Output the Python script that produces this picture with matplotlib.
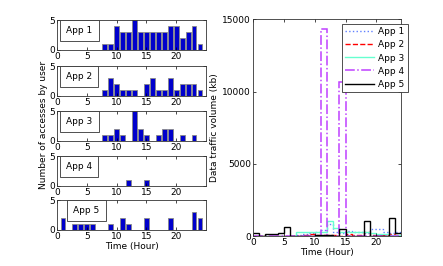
import numpy as np
import matplotlib
matplotlib.use("Agg")
import matplotlib.pyplot as plt

# hourly access counts per app (bars, hour 1..24)
hours = np.arange(1, 25)
app1_cnt = [0, 0, 0, 0, 0, 0, 0, 1, 1, 4, 3, 3, 5, 3, 3, 3, 3, 3, 4, 4, 2, 3, 4, 1]
app2_cnt = [0, 0, 0, 0, 0, 0, 0, 1, 3, 2, 1, 1, 1, 0, 2, 3, 1, 1, 3, 1, 2, 2, 2, 1]
app3_cnt = [0, 0, 0, 0, 0, 0, 0, 1, 1, 2, 1, 0, 5, 2, 1, 0, 1, 2, 2, 0, 1, 0, 1, 0]
app4_cnt = [0, 0, 0, 0, 0, 0, 0, 0, 0, 0, 0, 1, 0, 0, 1, 0, 0, 0, 0, 0, 0, 0, 0, 0]
app5_cnt = [2, 0, 1, 1, 1, 1, 0, 0, 1, 0, 2, 1, 0, 0, 2, 0, 0, 0, 2, 0, 0, 0, 3, 2]
counts = [app1_cnt, app2_cnt, app3_cnt, app4_cnt, app5_cnt]
names = ["App 1", "App 2", "App 3", "App 4", "App 5"]

# hourly traffic volume (kb), stairs over hour edges 0..24
edges = np.arange(0, 25)
app1_vol = [0, 0, 0, 0, 0, 0, 0, 100, 150, 200, 250, 400, 800, 300, 200, 350, 300, 250, 200, 500, 500, 300, 200, 250]
app2_vol = [0, 0, 0, 0, 0, 0, 0, 0, 50, 150, 100, 50, 100, 50, 0, 150, 100, 50, 250, 100, 50, 100, 150, 50]
app3_vol = [0, 0, 0, 0, 0, 0, 0, 250, 250, 300, 300, 300, 1050, 550, 300, 300, 250, 250, 300, 200, 150, 150, 100, 100]
app4_vol = [0, 0, 30, 30, 0, 0, 0, 0, 0, 0, 0, 14300, 0, 0, 10650, 0, 0, 0, 0, 0, 0, 0, 0, 0]
app5_vol = [200, 0, 120, 160, 180, 600, 0, 0, 0, 0, 100, 100, 50, 0, 450, 0, 0, 0, 1050, 0, 0, 0, 1250, 230]

fs = 6.5
W, H = 443, 266
fig = plt.figure(figsize=(W / 100, H / 100), dpi=100)

# left column of bar charts
tops = [20, 66, 111, 156, 200]
for i in range(5):
    ax = fig.add_axes([57 / W, 1 - (tops[i] + 29.5) / H, 149 / W, 29.5 / H])
    ax.bar(hours, counts[i], width=0.8, color="#0000cc", edgecolor="#888888", linewidth=0.6)
    ax.set_xlim(0, 25)
    ax.set_ylim(0, 5)
    ax.set_xticks([0, 5, 10, 15, 20])
    ax.set_yticks([0, 5])
    ax.tick_params(direction="in", top=True, right=True, labelsize=fs, length=2, pad=1.5, width=0.5)
    for s in ax.spines.values():
        s.set_linewidth(0.6)
        s.set_color("#333333")
    bx = 0.11 if i == 4 else 0.06
    ax.text(bx, 0.64, names[i], transform=ax.transAxes, fontsize=fs, va="center",
            bbox=dict(boxstyle="square,pad=0.7", fc="white", ec="#333333", lw=0.6))
    if i == 4:
        ax.set_xlabel("Time (Hour)", fontsize=fs, labelpad=1)

fig.text(43 / W, 1 - 125 / H, "Number of accesses by user", rotation=90,
         fontsize=fs, ha="center", va="center")

# right traffic plot
ax2 = fig.add_axes([253 / W, 1 - 236 / H, 148 / W, 216.7 / H])
ax2.stairs(app1_vol, edges, color="#6080ff", linestyle=":", linewidth=1.0, label="App 1", baseline=None)
ax2.stairs(app2_vol, edges, color="#ff0000", linestyle="--", linewidth=1.0, label="App 2", baseline=None)
ax2.stairs(app3_vol, edges, color="#66ffd0", linestyle="-", linewidth=1.0, label="App 3", baseline=None)
ax2.stairs(app4_vol, edges, color="#bf40ff", linestyle="-.", linewidth=1.1, label="App 4", baseline=None)
ax2.stairs(app5_vol, edges, color="black", linestyle="-", linewidth=1.0, label="App 5", baseline=None)
ax2.set_xlim(0, 24)
ax2.set_ylim(0, 15000)
ax2.set_xticks([0, 5, 10, 15, 20])
ax2.set_yticks([0, 5000, 10000, 15000])
ax2.tick_params(direction="in", top=True, right=True, labelsize=fs, length=2, pad=1.5, width=0.5)
for s in ax2.spines.values():
    s.set_linewidth(0.6)
    s.set_color("#333333")
ax2.set_xlabel("Time (Hour)", fontsize=fs, labelpad=1)
ax2.set_ylabel("Data traffic volume (kb)", fontsize=fs, labelpad=2)
leg = ax2.legend(loc="upper right", bbox_to_anchor=(1.075, 1.0), fontsize=fs, fancybox=False,
                 edgecolor="#333333", framealpha=1, handlelength=3.2, borderpad=0.4,
                 labelspacing=0.45, handletextpad=0.4)
leg.get_frame().set_linewidth(0.6)

fig.savefig("out.png", dpi=100)
